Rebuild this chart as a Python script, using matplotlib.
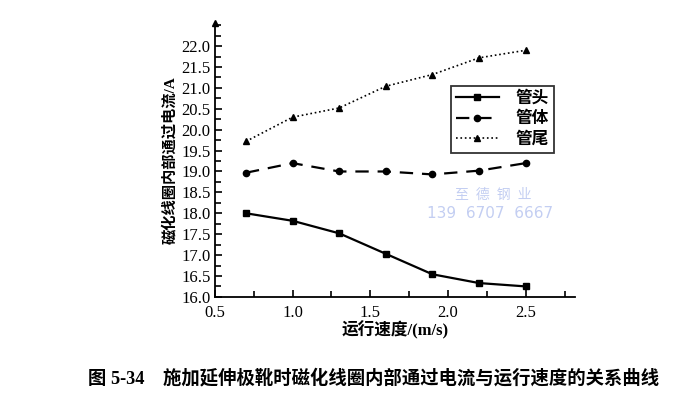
import matplotlib
matplotlib.use("Agg")
import matplotlib.pyplot as plt
from matplotlib.ticker import MultipleLocator

plt.rcParams['font.family'] = ['Liberation Serif', 'Noto Sans CJK SC']

# speed (m/s) and current (A)
speed = [0.7, 1.0, 1.3, 1.6, 1.9, 2.2, 2.5]
head = [18.0, 17.82, 17.52, 17.03, 16.54, 16.33, 16.25]
body = [18.97, 19.2, 19.0, 19.0, 18.93, 19.02, 19.2]
tail = [19.72, 20.3, 20.52, 21.04, 21.32, 21.72, 21.9]
series_names = ['管头', '管体', '管尾']

fig = plt.figure(figsize=(7, 3.99), dpi=100)
ax = fig.add_axes([0.307, 0.256, 0.515, 0.686])

ax.plot(speed, head, '-', color='black', lw=1.6, marker='s', ms=5, label=series_names[0])
ax.plot(speed, body, '--', color='black', lw=1.6, dashes=(6, 4), marker='o', ms=4.5, label=series_names[1])
ax.plot(speed, tail, ':', color='black', lw=1.2, marker='^', ms=4, label=series_names[2])

ax.set_xlim(0.5, 2.82)
ax.set_ylim(16.0, 22.55)
ax.xaxis.set_major_locator(MultipleLocator(0.5))
ax.xaxis.set_minor_locator(MultipleLocator(0.25))
ax.yaxis.set_minor_locator(MultipleLocator(0.25))
ax.set_yticks([16 + 0.5 * i for i in range(13)])
ax.tick_params(which='both', direction='in', labelsize=12, width=1.2)
ax.tick_params(axis='x', pad=6)
ax.tick_params(axis='y', pad=3)
ax.tick_params(which='major', length=5)
ax.tick_params(which='minor', length=4)

for s in ['top', 'right']:
    ax.spines[s].set_visible(False)
for s in ['left', 'bottom']:
    ax.spines[s].set_linewidth(1.3)

# arrow on top of y axis
ax.plot(0, 1, marker='^', color='black', ms=5, transform=ax.transAxes, clip_on=False)

ax.set_xlabel('运行速度/(m/s)', fontsize=12, fontweight='bold', labelpad=0)
ax.set_ylabel('磁化线圈内部通过电流/A', fontsize=11, fontweight='bold', labelpad=3)

leg = ax.legend(loc='upper left', bbox_to_anchor=(0.644, 0.784), bbox_transform=fig.transFigure,
                frameon=True, fancybox=False, handlelength=2.6,
                borderpad=0.3, labelspacing=0.25, handletextpad=1.0, borderaxespad=0,
                prop={'weight': 'bold', 'size': 12})
leg.get_frame().set_edgecolor('black')
leg.get_frame().set_linewidth(1.3)

# watermark
fig.text(0.705, 0.51, '至  德  钢  业', color='#c3cef2', fontsize=10, ha='center', va='center')
fig.text(0.70, 0.465, '139  6707  6667', color='#c3cef2', fontsize=11, ha='center', va='center',
         family=['DejaVu Sans'])

fig.text(0.125, 0.053, '图 5-34    施加延伸极靴时磁化线圈内部通过电流与运行速度的关系曲线',
         fontsize=13.2, fontweight='bold', ha='left', va='center')

fig.savefig('out.png', dpi=100)
